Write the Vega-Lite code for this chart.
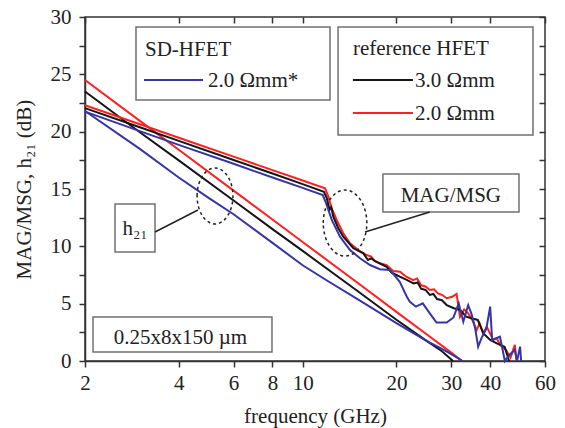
{
  "$schema": "https://vega.github.io/schema/vega-lite/v6.json",
  "width": 460,
  "height": 344,
  "autosize": {"type": "none"},
  "padding": {"left": 85, "top": 17, "right": 20, "bottom": 67},
  "background": "white",
  "config": {
    "font": "Liberation Serif",
    "view": {"stroke": "#333", "strokeWidth": 1.5},
    "axis": {
      "grid": false,
      "labelFont": "Liberation Serif",
      "labelFontSize": 21,
      "labelColor": "#222",
      "titleFont": "Liberation Serif",
      "titleFontSize": 21,
      "titleFontWeight": "normal",
      "titleColor": "#222",
      "domainColor": "#333",
      "domainWidth": 1.5,
      "tickColor": "#333",
      "tickWidth": 1.5
    }
  },
  "datasets": {
    "curves": [
      {"dev": "ref2", "kind": "h21", "f": 2, "db": 24.5},
      {"dev": "ref2", "kind": "h21", "f": 3, "db": 20.94},
      {"dev": "ref2", "kind": "h21", "f": 4, "db": 18.42},
      {"dev": "ref2", "kind": "h21", "f": 6, "db": 14.86},
      {"dev": "ref2", "kind": "h21", "f": 8, "db": 12.34},
      {"dev": "ref2", "kind": "h21", "f": 10, "db": 10.38},
      {"dev": "ref2", "kind": "h21", "f": 15, "db": 6.82},
      {"dev": "ref2", "kind": "h21", "f": 20, "db": 4.28},
      {"dev": "ref2", "kind": "h21", "f": 25, "db": 2.33},
      {"dev": "ref2", "kind": "h21", "f": 30, "db": 0.73},
      {"dev": "ref2", "kind": "h21", "f": 32.5, "db": 0},
      {"dev": "ref3", "kind": "h21", "f": 2, "db": 23.5},
      {"dev": "ref3", "kind": "h21", "f": 3, "db": 19.95},
      {"dev": "ref3", "kind": "h21", "f": 4, "db": 17.5},
      {"dev": "ref3", "kind": "h21", "f": 6, "db": 14.0},
      {"dev": "ref3", "kind": "h21", "f": 8, "db": 11.5},
      {"dev": "ref3", "kind": "h21", "f": 10, "db": 9.6},
      {"dev": "ref3", "kind": "h21", "f": 15, "db": 6.1},
      {"dev": "ref3", "kind": "h21", "f": 20, "db": 3.6},
      {"dev": "ref3", "kind": "h21", "f": 25, "db": 1.75},
      {"dev": "ref3", "kind": "h21", "f": 28, "db": 0.85},
      {"dev": "ref3", "kind": "h21", "f": 30.4, "db": 0},
      {"dev": "sd", "kind": "h21", "f": 2, "db": 21.8},
      {"dev": "sd", "kind": "h21", "f": 3, "db": 18.5},
      {"dev": "sd", "kind": "h21", "f": 4, "db": 16.0},
      {"dev": "sd", "kind": "h21", "f": 5, "db": 14.2},
      {"dev": "sd", "kind": "h21", "f": 6, "db": 12.8},
      {"dev": "sd", "kind": "h21", "f": 8, "db": 10.3},
      {"dev": "sd", "kind": "h21", "f": 10, "db": 8.35},
      {"dev": "sd", "kind": "h21", "f": 12, "db": 7.0},
      {"dev": "sd", "kind": "h21", "f": 15, "db": 5.4},
      {"dev": "sd", "kind": "h21", "f": 20, "db": 3.3},
      {"dev": "sd", "kind": "h21", "f": 25, "db": 1.75},
      {"dev": "sd", "kind": "h21", "f": 28, "db": 1.05},
      {"dev": "sd", "kind": "h21", "f": 30, "db": 0.6},
      {"dev": "sd", "kind": "h21", "f": 32.6, "db": 0},

      {"dev": "ref2", "kind": "mag", "f": 2, "db": 22.3},
      {"dev": "ref2", "kind": "mag", "f": 3, "db": 20.65},
      {"dev": "ref2", "kind": "mag", "f": 4, "db": 19.47},
      {"dev": "ref2", "kind": "mag", "f": 6, "db": 17.82},
      {"dev": "ref2", "kind": "mag", "f": 8, "db": 16.65},
      {"dev": "ref2", "kind": "mag", "f": 10, "db": 15.74},
      {"dev": "ref2", "kind": "mag", "f": 11.8, "db": 15.06},
      {"dev": "ref2", "kind": "mag", "f": 12.09, "db": 14.33},
      {"dev": "ref2", "kind": "mag", "f": 12.4, "db": 13.3},
      {"dev": "ref2", "kind": "mag", "f": 12.86, "db": 12.3},
      {"dev": "ref2", "kind": "mag", "f": 13.5, "db": 11.14},
      {"dev": "ref2", "kind": "mag", "f": 14.19, "db": 10.26},
      {"dev": "ref2", "kind": "mag", "f": 15.09, "db": 9.68},
      {"dev": "ref2", "kind": "mag", "f": 16.05, "db": 9.24},
      {"dev": "ref2", "kind": "mag", "f": 16.6, "db": 9.1},
      {"dev": "ref2", "kind": "mag", "f": 17.0, "db": 8.75},
      {"dev": "ref2", "kind": "mag", "f": 17.71, "db": 8.52},
      {"dev": "ref2", "kind": "mag", "f": 18.6, "db": 8.35},
      {"dev": "ref2", "kind": "mag", "f": 19.54, "db": 7.85},
      {"dev": "ref2", "kind": "mag", "f": 20.54, "db": 7.79},
      {"dev": "ref2", "kind": "mag", "f": 21.5, "db": 7.35},
      {"dev": "ref2", "kind": "mag", "f": 22.66, "db": 7.06},
      {"dev": "ref2", "kind": "mag", "f": 23.3, "db": 7.2},
      {"dev": "ref2", "kind": "mag", "f": 24.0, "db": 6.6},
      {"dev": "ref2", "kind": "mag", "f": 24.8, "db": 6.5},
      {"dev": "ref2", "kind": "mag", "f": 25.6, "db": 6.19},
      {"dev": "ref2", "kind": "mag", "f": 26.4, "db": 6.25},
      {"dev": "ref2", "kind": "mag", "f": 27.2, "db": 5.9},
      {"dev": "ref2", "kind": "mag", "f": 28.1, "db": 5.75},
      {"dev": "ref2", "kind": "mag", "f": 29.0, "db": 5.47},
      {"dev": "ref2", "kind": "mag", "f": 30.2, "db": 5.6},
      {"dev": "ref2", "kind": "mag", "f": 31.2, "db": 5.85},
      {"dev": "ref2", "kind": "mag", "f": 32.0, "db": 3.86},
      {"dev": "ref2", "kind": "mag", "f": 33.0, "db": 4.5},
      {"dev": "ref2", "kind": "mag", "f": 34.0, "db": 4.16},
      {"dev": "ref2", "kind": "mag", "f": 35.0, "db": 3.6},
      {"dev": "ref2", "kind": "mag", "f": 36.2, "db": 2.7},
      {"dev": "ref2", "kind": "mag", "f": 37.0, "db": 3.3},
      {"dev": "ref2", "kind": "mag", "f": 38.0, "db": 2.42},
      {"dev": "ref2", "kind": "mag", "f": 39.0, "db": 3.0},
      {"dev": "ref2", "kind": "mag", "f": 40.9, "db": 1.83},
      {"dev": "ref2", "kind": "mag", "f": 42.0, "db": 2.0},
      {"dev": "ref2", "kind": "mag", "f": 43.0, "db": 1.4},
      {"dev": "ref2", "kind": "mag", "f": 45.0, "db": 0.96},
      {"dev": "ref2", "kind": "mag", "f": 46.5, "db": 0.3},
      {"dev": "ref2", "kind": "mag", "f": 48.0, "db": 1.4},
      {"dev": "ref2", "kind": "mag", "f": 48.6, "db": 0},

      {"dev": "ref3", "kind": "mag", "f": 2, "db": 22.05},
      {"dev": "ref3", "kind": "mag", "f": 3, "db": 20.38},
      {"dev": "ref3", "kind": "mag", "f": 4, "db": 19.2},
      {"dev": "ref3", "kind": "mag", "f": 6, "db": 17.53},
      {"dev": "ref3", "kind": "mag", "f": 8, "db": 16.35},
      {"dev": "ref3", "kind": "mag", "f": 10, "db": 15.43},
      {"dev": "ref3", "kind": "mag", "f": 11.7, "db": 14.76},
      {"dev": "ref3", "kind": "mag", "f": 11.95, "db": 14.2},
      {"dev": "ref3", "kind": "mag", "f": 12.2, "db": 13.2},
      {"dev": "ref3", "kind": "mag", "f": 12.35, "db": 13.4},
      {"dev": "ref3", "kind": "mag", "f": 12.54, "db": 12.58},
      {"dev": "ref3", "kind": "mag", "f": 13.0, "db": 11.6},
      {"dev": "ref3", "kind": "mag", "f": 13.5, "db": 10.84},
      {"dev": "ref3", "kind": "mag", "f": 14.55, "db": 9.83},
      {"dev": "ref3", "kind": "mag", "f": 15.66, "db": 9.39},
      {"dev": "ref3", "kind": "mag", "f": 16.2, "db": 8.81},
      {"dev": "ref3", "kind": "mag", "f": 16.6, "db": 8.95},
      {"dev": "ref3", "kind": "mag", "f": 17.2, "db": 8.66},
      {"dev": "ref3", "kind": "mag", "f": 18.6, "db": 8.22},
      {"dev": "ref3", "kind": "mag", "f": 19.3, "db": 7.7},
      {"dev": "ref3", "kind": "mag", "f": 20.0, "db": 7.5},
      {"dev": "ref3", "kind": "mag", "f": 20.5, "db": 7.35},
      {"dev": "ref3", "kind": "mag", "f": 21.5, "db": 7.1},
      {"dev": "ref3", "kind": "mag", "f": 22.7, "db": 6.77},
      {"dev": "ref3", "kind": "mag", "f": 23.4, "db": 6.85},
      {"dev": "ref3", "kind": "mag", "f": 24.0, "db": 6.3},
      {"dev": "ref3", "kind": "mag", "f": 24.8, "db": 6.2},
      {"dev": "ref3", "kind": "mag", "f": 25.6, "db": 5.76},
      {"dev": "ref3", "kind": "mag", "f": 26.3, "db": 5.85},
      {"dev": "ref3", "kind": "mag", "f": 27.0, "db": 5.4},
      {"dev": "ref3", "kind": "mag", "f": 28.0, "db": 5.3},
      {"dev": "ref3", "kind": "mag", "f": 29.0, "db": 4.88},
      {"dev": "ref3", "kind": "mag", "f": 30.6, "db": 4.6},
      {"dev": "ref3", "kind": "mag", "f": 32.0, "db": 4.45},
      {"dev": "ref3", "kind": "mag", "f": 33.5, "db": 3.86},
      {"dev": "ref3", "kind": "mag", "f": 35.0, "db": 3.7},
      {"dev": "ref3", "kind": "mag", "f": 36.5, "db": 3.58},
      {"dev": "ref3", "kind": "mag", "f": 38.0, "db": 2.42},
      {"dev": "ref3", "kind": "mag", "f": 40.0, "db": 1.83},
      {"dev": "ref3", "kind": "mag", "f": 42.0, "db": 1.54},
      {"dev": "ref3", "kind": "mag", "f": 44.5, "db": 1.25},
      {"dev": "ref3", "kind": "mag", "f": 46.0, "db": 0},

      {"dev": "sd", "kind": "mag", "f": 2, "db": 21.75},
      {"dev": "sd", "kind": "mag", "f": 3, "db": 20.05},
      {"dev": "sd", "kind": "mag", "f": 4, "db": 18.85},
      {"dev": "sd", "kind": "mag", "f": 6, "db": 17.2},
      {"dev": "sd", "kind": "mag", "f": 8, "db": 16.0},
      {"dev": "sd", "kind": "mag", "f": 10, "db": 15.1},
      {"dev": "sd", "kind": "mag", "f": 11.6, "db": 14.47},
      {"dev": "sd", "kind": "mag", "f": 11.9, "db": 13.75},
      {"dev": "sd", "kind": "mag", "f": 12.4, "db": 12.3},
      {"dev": "sd", "kind": "mag", "f": 13.18, "db": 10.84},
      {"dev": "sd", "kind": "mag", "f": 14.19, "db": 9.68},
      {"dev": "sd", "kind": "mag", "f": 15.28, "db": 8.96},
      {"dev": "sd", "kind": "mag", "f": 16.45, "db": 8.37},
      {"dev": "sd", "kind": "mag", "f": 17.7, "db": 8.0},
      {"dev": "sd", "kind": "mag", "f": 19.07, "db": 7.94},
      {"dev": "sd", "kind": "mag", "f": 19.8, "db": 7.4},
      {"dev": "sd", "kind": "mag", "f": 20.5, "db": 6.9},
      {"dev": "sd", "kind": "mag", "f": 21.6, "db": 5.6},
      {"dev": "sd", "kind": "mag", "f": 22.1, "db": 5.17},
      {"dev": "sd", "kind": "mag", "f": 23.1, "db": 4.74},
      {"dev": "sd", "kind": "mag", "f": 24.3, "db": 5.03},
      {"dev": "sd", "kind": "mag", "f": 25.6, "db": 4.16},
      {"dev": "sd", "kind": "mag", "f": 26.9, "db": 3.35},
      {"dev": "sd", "kind": "mag", "f": 29.0, "db": 3.35},
      {"dev": "sd", "kind": "mag", "f": 30.5, "db": 3.8},
      {"dev": "sd", "kind": "mag", "f": 31.7, "db": 5.03},
      {"dev": "sd", "kind": "mag", "f": 32.8, "db": 3.43},
      {"dev": "sd", "kind": "mag", "f": 34.0, "db": 4.88},
      {"dev": "sd", "kind": "mag", "f": 34.8, "db": 4.16},
      {"dev": "sd", "kind": "mag", "f": 35.8, "db": 2.85},
      {"dev": "sd", "kind": "mag", "f": 36.6, "db": 1.25},
      {"dev": "sd", "kind": "mag", "f": 37.5, "db": 1.98},
      {"dev": "sd", "kind": "mag", "f": 38.9, "db": 2.85},
      {"dev": "sd", "kind": "mag", "f": 40.0, "db": 4.74},
      {"dev": "sd", "kind": "mag", "f": 40.6, "db": 1.83},
      {"dev": "sd", "kind": "mag", "f": 43.0, "db": 2.12},
      {"dev": "sd", "kind": "mag", "f": 44.6, "db": 0},
      {"dev": "sd", "kind": "mag", "f": 46.0, "db": 0.5},
      {"dev": "sd", "kind": "mag", "f": 48.0, "db": 0.96},
      {"dev": "sd", "kind": "mag", "f": 48.8, "db": 0},
      {"dev": "sd", "kind": "mag", "f": 49.9, "db": 1.25},
      {"dev": "sd", "kind": "mag", "f": 50.3, "db": 0}
    ],
    "boxes": [
      {"name": "sd", "f1": 2.916, "f2": 12.24, "y1": 29.13, "y2": 22.76},
      {"name": "ref", "f1": 12.99, "f2": 54.9, "y1": 29.13, "y2": 19.71},
      {"name": "mag", "f1": 18.1, "f2": 49.5, "y1": 16.31, "y2": 13.0},
      {"name": "h21", "f1": 2.497, "f2": 3.356, "y1": 13.69, "y2": 9.5},
      {"name": "dim", "f1": 2.122, "f2": 7.97, "y1": 3.84, "y2": 0.785}
    ],
    "keys": [
      {"dev": "sd", "f1": 3.094, "f2": 4.786, "db": 24.5},
      {"dev": "ref3", "f1": 14.5, "f2": 22.6, "db": 24.5},
      {"dev": "ref2", "f1": 14.5, "f2": 22.6, "db": 21.63}
    ],
    "leftText": [
      {"f": 3.117, "db": 26.6, "label": "SD-HFET"},
      {"f": 4.966, "db": 23.9, "label": "2.0 Ωmm*"},
      {"f": 14.5, "db": 26.68, "label": "reference HFET"},
      {"f": 22.95, "db": 23.9, "label": "3.0 Ωmm"},
      {"f": 22.95, "db": 21.0, "label": "2.0 Ωmm"}
    ],
    "centerText": [
      {"f": 29.9, "db": 13.87, "label": "MAG/MSG"},
      {"f": 2.894, "db": 10.99, "label": "h₂₁"},
      {"f": 4.05, "db": 1.48, "label": "0.25x8x150 µm"}
    ],
    "leaders": [
      {"f1": 3.356, "y1": 11.25, "f2": 4.61, "y2": 13.17},
      {"f1": 25.6, "y1": 12.99, "f2": 15.86, "y2": 11.25}
    ],
    "ellipses": [
      {"name": "h21", "f": 5.23, "db": 14.39},
      {"name": "mag", "f": 13.68, "db": 12.03}
    ]
  },
  "layer": [
    {
      "data": {"name": "curves"},
      "mark": {"type": "line", "strokeWidth": 2},
      "encoding": {
        "x": {
          "field": "f", "type": "quantitative",
          "scale": {"type": "log", "domain": [2, 60], "nice": false},
          "axis": {
            "orient": "bottom",
            "values": [2, 4, 6, 8, 10, 20, 30, 40, 60],
            "format": "d",
            "tickSize": 6,
            "labelPadding": 5,
            "labelFlush": false,
            "title": "frequency (GHz)",
            "titlePadding": 12
          }
        },
        "y": {
          "field": "db", "type": "quantitative",
          "scale": {"domain": [0, 30], "nice": false},
          "axis": {
            "orient": "left",
            "values": [0, 2.5, 5, 7.5, 10, 12.5, 15, 17.5, 20, 22.5, 25, 27.5, 30],
            "labelExpr": "datum.value % 5 == 0 ? datum.label : ''",
            "tickSize": 6,
            "labelPadding": 8,
            "title": "MAG/MSG, h₂₁ (dB)",
            "titlePadding": 16
          }
        },
        "color": {
          "field": "dev", "type": "nominal",
          "scale": {"domain": ["ref2", "ref3", "sd"], "range": ["#ff1f1f", "#151515", "#3535a5"]},
          "legend": null
        },
        "detail": {"field": "kind"}
      }
    },
    {
      "data": {"name": "boxes"},
      "mark": {"type": "rect", "fill": "white", "stroke": "#707070", "strokeWidth": 1.5},
      "encoding": {
        "x": {
          "field": "f1", "type": "quantitative",
          "axis": {
            "orient": "top",
            "values": [2, 4, 6, 8, 10, 20, 30, 40, 60],
            "labels": false,
            "domain": false,
            "tickSize": -6,
            "title": null
          }
        },
        "x2": {"field": "f2"},
        "y": {
          "field": "y1", "type": "quantitative",
          "axis": {
            "orient": "right",
            "values": [0, 2.5, 5, 7.5, 10, 12.5, 15, 17.5, 20, 22.5, 25, 27.5, 30],
            "labels": false,
            "domain": false,
            "tickSize": -6,
            "title": null
          }
        },
        "y2": {"field": "y2"}
      }
    },
    {
      "data": {"name": "keys"},
      "mark": {"type": "rule", "strokeWidth": 2},
      "encoding": {
        "x": {"field": "f1", "type": "quantitative", "axis": null},
        "x2": {"field": "f2"},
        "y": {"field": "db", "type": "quantitative", "axis": null},
        "color": {"field": "dev", "type": "nominal", "legend": null}
      }
    },
    {
      "data": {"name": "leftText"},
      "mark": {"type": "text", "align": "left", "baseline": "alphabetic", "fontSize": 21, "font": "Liberation Serif", "fill": "#222"},
      "encoding": {
        "x": {"field": "f", "type": "quantitative", "axis": null},
        "y": {"field": "db", "type": "quantitative", "axis": null},
        "text": {"field": "label"}
      }
    },
    {
      "data": {"name": "centerText"},
      "mark": {"type": "text", "align": "center", "baseline": "alphabetic", "fontSize": 21, "font": "Liberation Serif", "fill": "#222"},
      "encoding": {
        "x": {"field": "f", "type": "quantitative", "axis": null},
        "y": {"field": "db", "type": "quantitative", "axis": null},
        "text": {"field": "label"}
      }
    },
    {
      "data": {"name": "leaders"},
      "mark": {"type": "rule", "stroke": "#222", "strokeWidth": 1.5},
      "encoding": {
        "x": {"field": "f1", "type": "quantitative", "axis": null},
        "x2": {"field": "f2"},
        "y": {"field": "y1", "type": "quantitative", "axis": null},
        "y2": {"field": "y2"}
      }
    },
    {
      "data": {"name": "ellipses"},
      "transform": [{"filter": "datum.name == 'h21'"}],
      "mark": {"type": "point", "shape": "M -0.64 0 C -0.64 -0.55 -0.35 -1 0 -1 C 0.35 -1 0.64 -0.55 0.64 0 C 0.64 0.55 0.35 1 0 1 C -0.35 1 -0.64 0.55 -0.64 0 Z", "size": 3136, "filled": false, "fill": null, "stroke": "#222", "strokeWidth": 1.5, "strokeDash": [3, 3], "opacity": 1},
      "encoding": {
        "x": {"field": "f", "type": "quantitative", "axis": null},
        "y": {"field": "db", "type": "quantitative", "axis": null}
      }
    },
    {
      "data": {"name": "ellipses"},
      "transform": [{"filter": "datum.name == 'mag'"}],
      "mark": {"type": "point", "shape": "M -0.66 0 C -0.66 -0.55 -0.36 -1 0 -1 C 0.36 -1 0.66 -0.55 0.66 0 C 0.66 0.55 0.36 1 0 1 C -0.36 1 -0.66 0.55 -0.66 0 Z", "size": 4356, "filled": false, "fill": null, "stroke": "#222", "strokeWidth": 1.5, "strokeDash": [3, 3], "opacity": 1},
      "encoding": {
        "x": {"field": "f", "type": "quantitative", "axis": null},
        "y": {"field": "db", "type": "quantitative", "axis": null}
      }
    }
  ],
  "resolve": {"axis": {"x": "independent", "y": "independent"}}
}
